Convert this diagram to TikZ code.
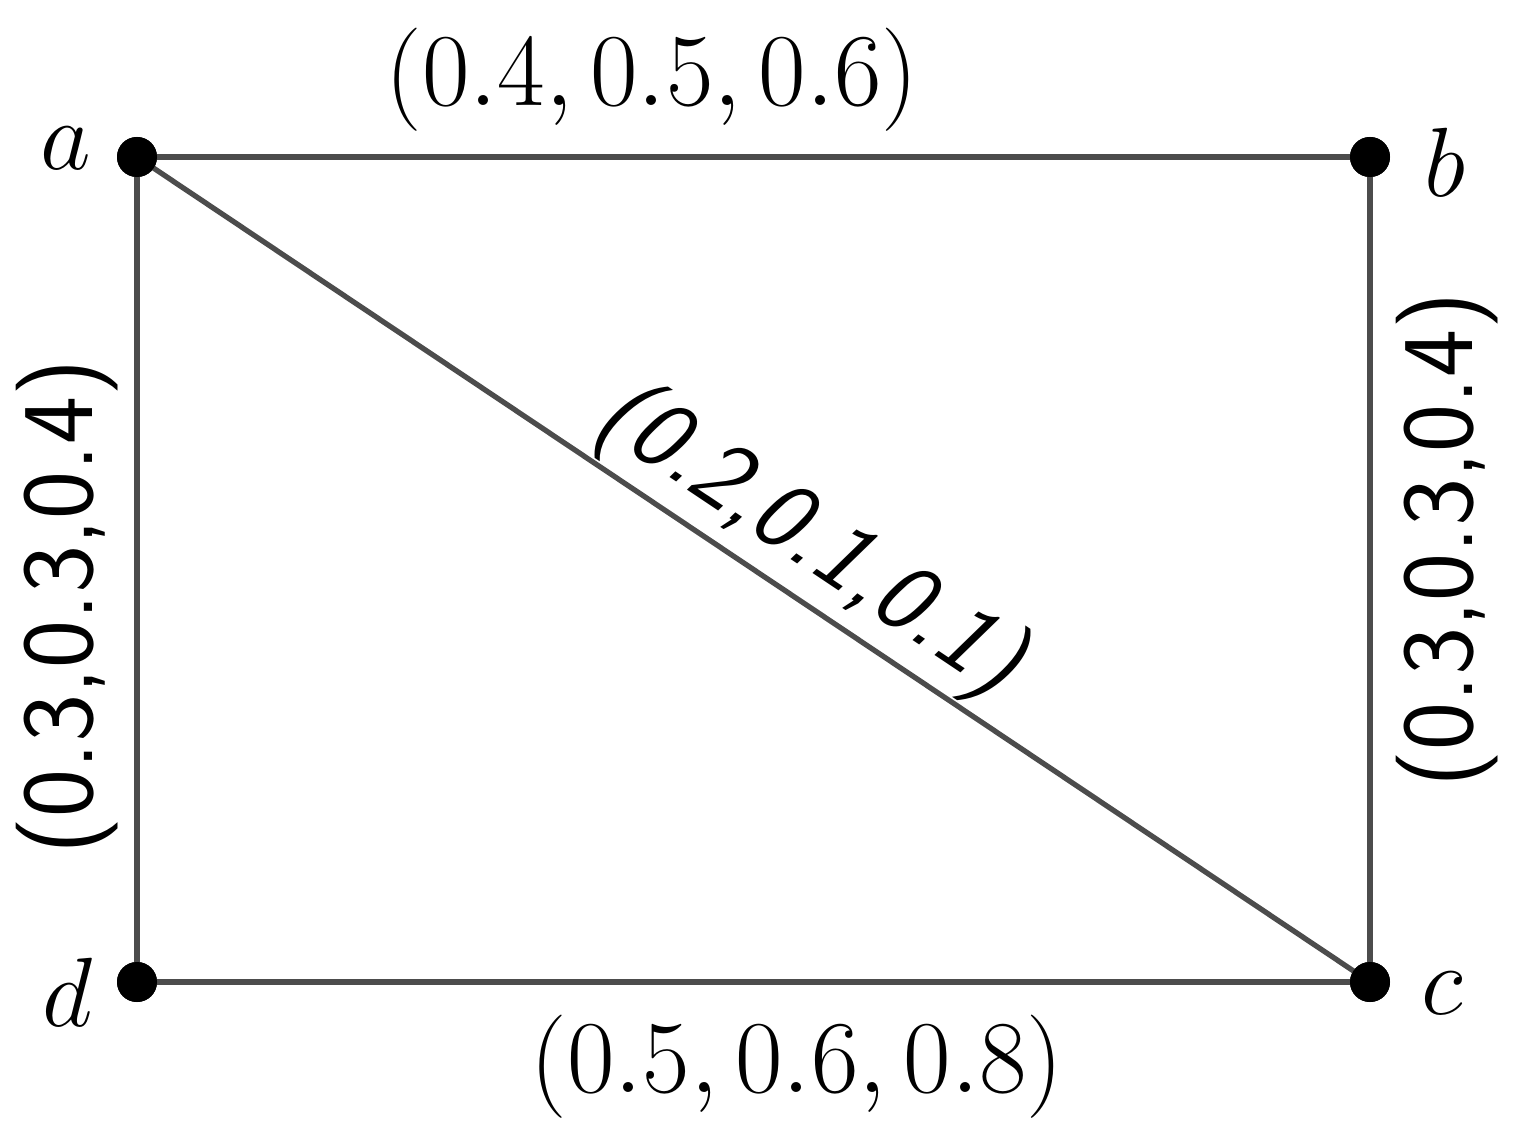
\RequirePackage{fix-cm}
\documentclass[tikz,border=0pt]{standalone}
\begin{document}
\begin{tikzpicture}[
  vtx/.style={circle,fill=black,minimum size=0.4cm,inner sep=0pt},
  edge/.style={draw=black!70,line width=1.5pt},
  lbl/.style={font=\fontsize{29.4}{35}\selectfont,inner sep=0pt},
  vlbl/.style={font=\fontsize{28}{34}\selectfont,inner sep=0pt},
  slbl/.style={font=\fontsize{29}{34}\selectfont\sffamily,inner sep=0pt}
]
\useasboundingbox (0,0) rectangle (15.24,-11.35);
\node[vtx] (a) at (1.37,-1.57) {};
\node[vtx] (b) at (13.70,-1.57) {};
\node[vtx] (c) at (13.70,-9.82) {};
\node[vtx] (d) at (1.37,-9.82) {};
\draw[edge] (a.center) -- (b.center);
\draw[edge] (b.center) -- (c.center);
\draw[edge] (c.center) -- (d.center);
\draw[edge] (d.center) -- (a.center);
\draw[edge] (a.center) -- node[slbl,sloped,above=0.02cm,pos=0.52,font=\fontsize{28.5}{34}\selectfont\sffamily\slshape] (lac) {(0.2,0.1,0.1)} (c.center);
\node[vtx] at (a) {};
\node[vtx] at (b) {};
\node[vtx] at (c) {};
\node[vtx] at (d) {};
\node[vlbl] (la) at (0.66,-1.48) {$a$};
\node[vlbl] (lb) at (14.45,-1.62) {$b$};
\node[vlbl] (lc) at (14.42,-9.93) {$c$};
\node[vlbl] (ld) at (0.68,-9.92) {$d$};
\node[lbl] (lab) at (6.52,-0.80) {$(0.4,0.5,0.6)$};
\node[lbl] (lcd) at (7.97,-10.67) {$(0.5,0.6,0.8)$};
\node[slbl,rotate=90] (lad) at (0.67,-6.07) {(0.3,0.3,0.4)};
\node[slbl,rotate=90] (lbc) at (14.47,-5.40) {(0.3,0.3,0.4)};
\end{tikzpicture}
\end{document}
